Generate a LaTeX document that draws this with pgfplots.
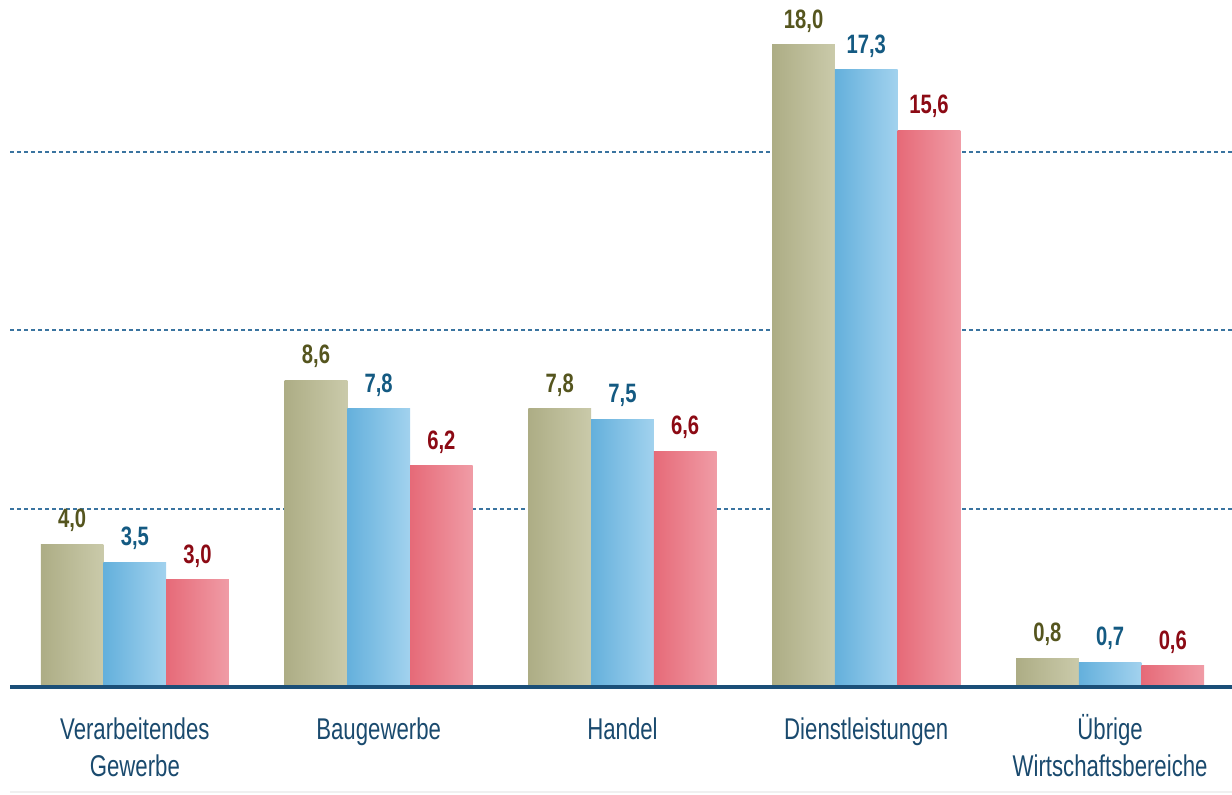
\documentclass[border=0pt]{standalone}
\usepackage{pgfplots}
\pgfplotsset{compat=1.18}
\usepackage{fontspec}
\setmainfont{Liberation Sans}
\newfontfamily\valfont[FakeStretch=0.76]{Liberation Sans}
\newfontfamily\tickfont[FakeStretch=0.74]{Liberation Sans}
\definecolor{oliveL}{HTML}{ADAD85}
\definecolor{oliveR}{HTML}{CACAAA}
\definecolor{blueL}{HTML}{64B0DC}
\definecolor{blueR}{HTML}{A2D2EE}
\definecolor{redL}{HTML}{E66A78}
\definecolor{redR}{HTML}{F09CA6}
\definecolor{oliveT}{HTML}{55551E}
\definecolor{blueT}{HTML}{145A82}
\definecolor{redT}{HTML}{8C0A14}
\definecolor{tickblue}{HTML}{1A4A6E}
\definecolor{gridblue}{HTML}{3A74A0}
\definecolor{axisblue}{HTML}{1B4F78}
\pgfplotsset{
  sO/.style={ybar, bar width=31.35pt, bar shift=-31.35pt, draw=none, left color=oliveL, right color=oliveR, every node near coord/.append style={text=oliveT, xshift=-31.35pt}},
  sB/.style={ybar, bar width=31.35pt, bar shift=0pt, draw=none, left color=blueL, right color=blueR, every node near coord/.append style={text=blueT}},
  sR/.style={ybar, bar width=31.35pt, bar shift=31.35pt, draw=none, left color=redL, right color=redR, every node near coord/.append style={text=redT, xshift=31.35pt}},
}
\begin{document}
\begin{tikzpicture}
\begin{axis}[
  name=ax,
  scale only axis,
  width=611pt, height=343.5pt,
  xmin=-0.512, xmax=4.5,
  ymin=0, ymax=19.26,
  axis line style={draw=none},
  xtick={0,1,2,3,4},
  xticklabels={{Verarbeitendes\\Gewerbe},Baugewerbe,Handel,Dienstleistungen,{\smash{Ü}brige\\Wirtschaftsbereiche}},
  xticklabel style={align=center, text=tickblue, font=\tickfont\fontsize{15}{18.5}\selectfont, yshift=-12pt},
  ytick={5,10,15}, yticklabels={},
  tick style={draw=none},
  ymajorgrids,
  major grid style={dash pattern=on 2pt off 1.5pt, color=gridblue, line width=0.9pt},
  clip=false,
  nodes near coords,
  /pgf/number format/.cd, fixed, fixed zerofill, precision=1, use comma, assume math mode=true,
  /pgfplots/.cd,
  every node near coord/.append style={font=\valfont\bfseries\fontsize{13.3}{15}\selectfont, anchor=south, yshift=2.7pt},
]
% Verarbeitendes Gewerbe
\addplot[sO] coordinates {(0,4.0)};
\addplot[sB] coordinates {(0,3.5)};
\addplot[sR] coordinates {(0,3.0)};
% Baugewerbe
\addplot[sO] coordinates {(1,8.6)};
\addplot[sB] coordinates {(1,7.8)};
\addplot[sR] coordinates {(1,6.2)};
% Handel
\addplot[sO] coordinates {(2,7.8)};
\addplot[sB] coordinates {(2,7.5)};
\addplot[sR] coordinates {(2,6.6)};
% Dienstleistungen
\addplot[sO] coordinates {(3,18.0)};
\addplot[sB] coordinates {(3,17.3)};
\addplot[sR] coordinates {(3,15.6)};
% Uebrige
\addplot[sO] coordinates {(4,0.8)};
\addplot[sB] coordinates {(4,0.7)};
\addplot[sR] coordinates {(4,0.6)};
\draw[axisblue, line width=1.6pt] (rel axis cs:0,0) -- (rel axis cs:1,0);
\end{axis}
\draw[gray!12, line width=0.8pt] ([yshift=-52.5pt]ax.south west) -- ([yshift=-52.5pt]ax.south east);
\pgfresetboundingbox
\useasboundingbox ([xshift=-5pt,yshift=-53.5pt]ax.south west) rectangle (ax.north east);
\end{tikzpicture}
\end{document}
